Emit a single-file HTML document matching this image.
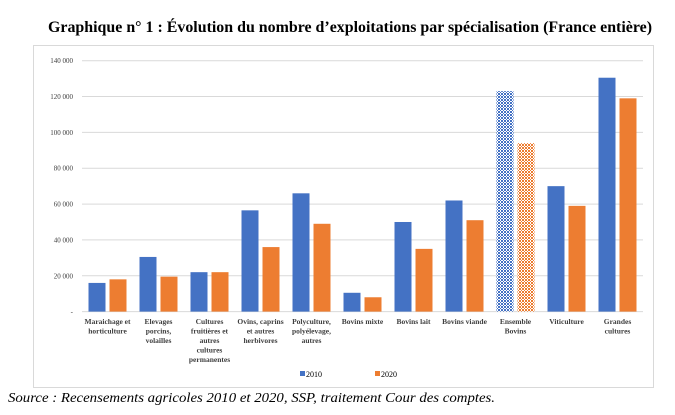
<!DOCTYPE html>
<html><head><meta charset="utf-8"><style>
body{margin:0;background:#fff;}
svg{display:block;font-family:"Liberation Serif",serif;}
</style></head><body>
<svg width="675" height="415" viewBox="0 0 675 415">
<defs>
<pattern id="hb" width="3" height="3" patternUnits="userSpaceOnUse"><rect width="3" height="3" fill="#fff"/><rect width="2" height="2" fill="#4472c4"/><rect x="2" y="2" width="1" height="1" fill="#4472c4"/></pattern>
<pattern id="ho" width="3" height="3" patternUnits="userSpaceOnUse"><rect width="3" height="3" fill="#fff"/><rect width="2" height="2" fill="#ed7d31"/><rect x="2" y="2" width="1" height="1" fill="#ed7d31"/></pattern>
</defs>
<text x="350" y="32" text-anchor="middle" font-weight="bold" font-size="16" textLength="604" lengthAdjust="spacingAndGlyphs">Graphique n° 1 :  Évolution du nombre d’exploitations par spécialisation (France entière)</text>
<rect x="33.5" y="45.5" width="620" height="342" fill="none" stroke="#d9d9d9"/>
<g id="grid"></g>
<g id="bars"></g>
<g id="xlabels"></g>
<g>
<rect x="300" y="371" width="5" height="5" fill="#4472c4"/>
<text x="306" y="377" font-size="8">2010</text>
<rect x="375" y="371" width="5" height="5" fill="#ed7d31"/>
<text x="381" y="377" font-size="8">2020</text>
</g>
<text x="8" y="402" font-style="italic" font-size="14" textLength="487" lengthAdjust="spacingAndGlyphs">Source : Recensements agricoles 2010 et 2020, SSP, traitement Cour des comptes.</text>
</svg>
<script>
const categories=[["Maraichage et","horticulture"],["Elevages","porcins,","volailles"],["Cultures","fruitières et","autres","cultures","permanentes"],["Ovins, caprins","et autres","herbivores"],["Polyculture,","polyélevage,","autres"],["Bovins mixte"],["Bovins lait"],["Bovins viande"],["Ensemble","Bovins"],["Viticulture"],["Grandes","cultures"]];
const values2010=[16000,30500,22000,56500,66000,10500,50000,62000,123000,70000,130500];
const values2020=[18000,19500,22000,36000,49000,8000,35000,51000,94000,59000,119000];
const yTicks=[0,20000,40000,60000,80000,100000,120000,140000];
const yTickLabels=["-","20 000","40 000","60 000","80 000","100 000","120 000","140 000"];
const NS="http://www.w3.org/2000/svg";
const x0=82,x1=643,y0=311.6,yTop=60.7,yMax=140000;
const y=v=>y0-(v/yMax)*(y0-yTop);
const band=(x1-x0)/categories.length;
function mk(tag,attrs,parent){const e=document.createElementNS(NS,tag);for(const k in attrs)e.setAttribute(k,attrs[k]);document.getElementById(parent).appendChild(e);return e;}
yTicks.forEach((t,i)=>{
 const l=mk('line',{x1:x0,x2:x1,y1:y(t),y2:y(t),stroke:'#d9d9d9','stroke-width':1},'grid');
 
 
 const tx=mk('text',{x:73,y:y(t)+2.5,'text-anchor':'end','font-size':7,fill:'#404040'},'grid');
 tx.textContent=yTickLabels[i];
 
 
});
categories.forEach((c,i)=>{
 const cx=x0+band*(i+0.5);const bw=17;
 const hatch=i===8;
 const b1=mk('rect',{x:cx-bw-2,y:y(values2010[i]),width:bw,height:y0-y(values2010[i]),fill:hatch?'url(#hb)':'#4472c4'},'bars');
 
 
 const b2=mk('rect',{x:cx+2,y:y(values2020[i]),width:bw,height:y0-y(values2020[i]),fill:hatch?'url(#ho)':'#ed7d31'},'bars');
 
 
 const t=mk('text',{x:cx,y:324,'text-anchor':'middle','font-size':7.5,'font-weight':'bold',fill:'#404040'},'xlabels');
 
 
 c.forEach((line,j)=>{const s=document.createElementNS(NS,'tspan');s.setAttribute('x',cx);s.setAttribute('dy',j?9.5:0);s.textContent=line;t.appendChild(s);});
});
</script>
</body></html>
